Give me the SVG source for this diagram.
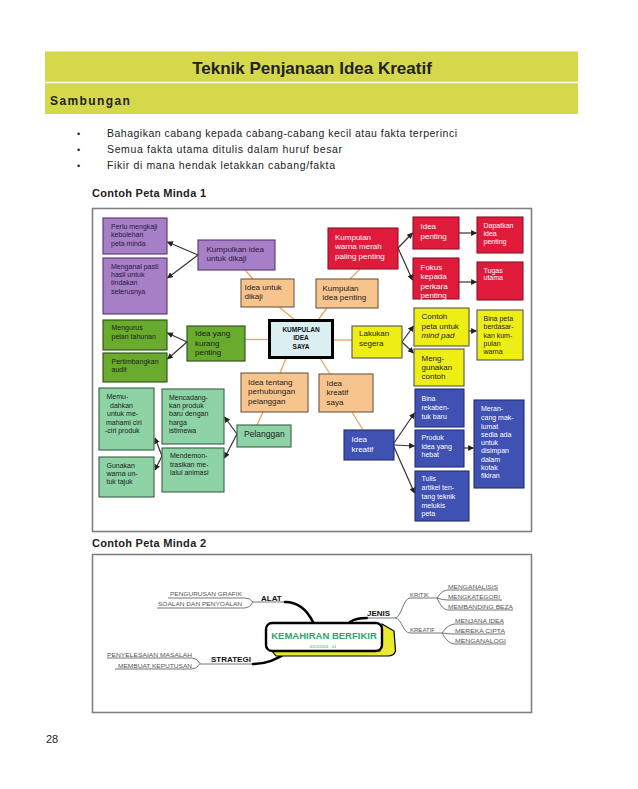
<svg xmlns="http://www.w3.org/2000/svg" width="638" height="789" viewBox="0 0 638 789">
<style>
text{font-family:"Liberation Sans",Arial,sans-serif}
.frame{fill:#fff;stroke:#808080;stroke-width:1.6}
.b{stroke-width:1.1}
.pur{fill:#a67fc6;stroke:#553377}
.red{fill:#e01a3b;stroke:#8a1428}
.pch{fill:#f8c48d;stroke:#6b5a46}
.grn{fill:#69ab2c;stroke:#2d4b1b}
.lgr{fill:#8dd3a5;stroke:#3b5f48}
.blu{fill:#3f51b3;stroke:#252f6e}
.yel{fill:#efee14;stroke:#555}
.t7{font-size:7px;fill:#1c1c1c}
.t8{font-size:8px;fill:#1c1c1c}
.tp{fill:#2b1740}
.w{fill:#fff}
.or{stroke:#f0a05c;stroke-width:1.3;fill:none}
.ar{stroke:#333;stroke-width:1.2;fill:none;marker-end:url(#ah)}
.ul{stroke:#666;stroke-width:0.9;fill:none}
.th{stroke:#000;fill:none;stroke-linecap:round}
.leaf{font-size:5.6px;fill:#555}
.br{font-size:8px;font-weight:bold;fill:#111}
</style>
<defs>
<marker id="ah" viewBox="0 0 10 10" refX="9" refY="5" markerWidth="6" markerHeight="6" markerUnits="userSpaceOnUse" orient="auto"><path d="M0,0 L10,5 L0,10 z" fill="#222"/></marker>
</defs>
<rect width="638" height="789" fill="#fff"/>

<g id="header">
<rect x="45" y="51.5" width="533" height="62.5" fill="#d6d84b"/>
<line x1="45" y1="82.5" x2="578" y2="82.5" stroke="#fff" stroke-width="1.3"/>
<text x="312" y="74" text-anchor="middle" font-size="17" font-weight="bold" fill="#222">Teknik Penjanaan Idea Kreatif</text>
<text x="50" y="105" font-size="12" font-weight="bold" fill="#222" letter-spacing="1.4">Sambungan</text>
</g>

<g id="bullets" font-size="10.5" fill="#222">
<text x="77" y="136.5" font-size="9">•</text>
<text x="107" y="137" textLength="350" lengthAdjust="spacing">Bahagikan cabang kepada cabang-cabang kecil atau fakta terperinci</text>
<text x="77" y="152.5" font-size="9">•</text>
<text x="107" y="153" textLength="235" lengthAdjust="spacing">Semua fakta utama ditulis dalam huruf besar</text>
<text x="77" y="168.5" font-size="9">•</text>
<text x="107" y="169" textLength="228" lengthAdjust="spacing">Fikir di mana hendak letakkan cabang/fakta</text>
</g>

<text x="92" y="197" font-size="11" font-weight="bold" fill="#222" textLength="114" lengthAdjust="spacing">Contoh Peta Minda 1</text>
<rect class="frame" x="92.5" y="208.5" width="439" height="323"/>

<g id="connectors1">
<line class="or" x1="245" y1="270" x2="253" y2="279"/>
<line class="or" x1="279" y1="307" x2="295" y2="320"/>
<line class="or" x1="350" y1="279" x2="360" y2="269"/>
<line class="or" x1="318" y1="320" x2="327" y2="308"/>
<line class="or" x1="269" y1="339.5" x2="245" y2="339.5"/>
<line class="or" x1="333" y1="340" x2="352" y2="340"/>
<line class="or" x1="286" y1="358" x2="280" y2="373"/>
<line class="or" x1="320" y1="358" x2="330" y2="374"/>
<line class="or" x1="263" y1="412" x2="257" y2="425"/>
<line class="or" x1="352" y1="412" x2="363" y2="430"/>
<line class="ar" x1="198" y1="255" x2="167.5" y2="242"/>
<line class="ar" x1="198" y1="255" x2="167.5" y2="278"/>
<line class="ar" x1="187" y1="342" x2="167.5" y2="333"/>
<line class="ar" x1="187" y1="342" x2="167.5" y2="359"/>
<line class="ar" x1="237" y1="434" x2="224.5" y2="417"/>
<line class="ar" x1="237" y1="434" x2="224.5" y2="458"/>
<line class="ar" x1="162" y1="456" x2="155" y2="438"/>
<line class="ar" x1="162" y1="456" x2="155" y2="470"/>
<line class="ar" x1="394" y1="443" x2="414.5" y2="413"/>
<line class="ar" x1="394" y1="445" x2="414.5" y2="446"/>
<line class="ar" x1="394" y1="447" x2="414.5" y2="493"/>
<line class="ar" x1="464" y1="448" x2="473.5" y2="448"/>
<line class="ar" x1="398" y1="248" x2="412.5" y2="233"/>
<line class="ar" x1="398" y1="248" x2="412.5" y2="280"/>
<line class="ar" x1="459" y1="233" x2="476.5" y2="233"/>
<line class="ar" x1="459" y1="282" x2="476.5" y2="282"/>
<line class="ar" x1="402" y1="342" x2="413.5" y2="326"/>
<line class="ar" x1="402" y1="342" x2="413.5" y2="353"/>
<line class="ar" x1="469" y1="331" x2="476.5" y2="331"/>
</g>

<g id="n-perlu"><rect class="b pur" x="103" y="218" width="64" height="36"/><text class="t7 tp"><tspan x="111" y="228.5">Perlu mengkaji</tspan><tspan x="111" y="237">kebolehan</tspan><tspan x="111" y="245.5">peta minda</tspan></text></g>
<g id="n-menganal"><rect class="b pur" x="103" y="258" width="64" height="56"/><text class="t7 tp"><tspan x="111" y="268.5">Menganal pasti</tspan><tspan x="111" y="276.5">hasil untuk</tspan><tspan x="111" y="285">tindakan</tspan><tspan x="111" y="293.5">seterusnya</tspan></text></g>
<g id="n-kumpulkan"><rect class="b pur" x="198" y="240" width="77" height="30"/><text class="t8 tp"><tspan x="206.5" y="252.3">Kumpulkan idea</tspan><tspan x="206.5" y="261.3">untuk dikaji</tspan></text></g>
<g id="n-ideauntuk"><rect class="b pch" x="241" y="279" width="53" height="28"/><text class="t8"><tspan x="244.5" y="289.5">Idea untuk</tspan><tspan x="244.5" y="298.5">dikaji</tspan></text></g>
<g id="n-kumpulanidea"><rect class="b pch" x="316" y="279" width="62" height="29"/><text class="t8"><tspan x="322.5" y="290.5">Kumpulan</tspan><tspan x="322.5" y="299.5">idea penting</tspan></text></g>
<g id="n-warnamerah"><rect class="b red" x="328" y="228" width="70" height="41"/><text class="t8 w"><tspan x="335" y="239.5">Kumpulan</tspan><tspan x="335" y="249">warna merah</tspan><tspan x="335" y="258.5">paling penting</tspan></text></g>
<g id="n-central"><rect x="269.5" y="320.5" width="63" height="37" fill="#dbeff2" stroke="#000" stroke-width="3"/><text font-size="6.5" font-weight="bold" fill="#111" text-anchor="middle"><tspan x="301" y="331.5">KUMPULAN</tspan><tspan x="301" y="340">IDEA</tspan><tspan x="301" y="348.5">SAYA</tspan></text></g>
<g id="n-kurang"><rect class="b grn" x="187" y="326" width="58" height="35"/><text class="t8"><tspan x="195" y="336">Idea yang</tspan><tspan x="195" y="345.5">kurang</tspan><tspan x="195" y="354.5">penting</tspan></text></g>
<g id="n-lakukan"><rect class="b yel" x="352" y="326" width="50" height="32"/><text class="t8"><tspan x="359" y="336">Lakukan</tspan><tspan x="359" y="345.5">segera</tspan></text></g>
<g id="n-mengurus"><rect class="b grn" x="103" y="320" width="64" height="30"/><text class="t7"><tspan x="111.5" y="330">Mengurus</tspan><tspan x="111.5" y="338.5">pelan tahunan</tspan></text></g>
<g id="n-audit"><rect class="b grn" x="103" y="353" width="64" height="29"/><text class="t7"><tspan x="111.5" y="363.5">Pertimbangkan</tspan><tspan x="111.5" y="371.5">audit</tspan></text></g>
<g id="n-perhubungan"><rect class="b pch" x="241" y="373" width="67" height="39"/><text class="t8"><tspan x="248" y="384.5">Idea tentang</tspan><tspan x="248" y="394">perhubungan</tspan><tspan x="248" y="403.5">pelanggan</tspan></text></g>
<g id="n-kreatifsaya"><rect class="b pch" x="319" y="374" width="54" height="38"/><text class="t8"><tspan x="326.5" y="385.5">Idea</tspan><tspan x="326.5" y="395">kreatif</tspan><tspan x="326.5" y="404.5">saya</tspan></text></g>
<g id="n-pelanggan"><rect class="b lgr" x="237" y="425" width="54" height="22"/><text x="244" y="437" font-size="8.5" fill="#1c1c1c">Pelanggan</text></g>
<g id="n-mencadang"><rect class="b lgr" x="162" y="389" width="62" height="55"/><text class="t7"><tspan x="169" y="399.8">Mencadang-</tspan><tspan x="169" y="407.8">kan produk</tspan><tspan x="169" y="416.2">baru dengan</tspan><tspan x="169" y="424.8">harga</tspan><tspan x="169" y="433.2">istimewa</tspan></text></g>
<g id="n-mendemon"><rect class="b lgr" x="162" y="448" width="62" height="44"/><text class="t7"><tspan x="170" y="458.2">Mendemon-</tspan><tspan x="170" y="466.8">trasikan me-</tspan><tspan x="170" y="475.2">lalui animasi</tspan></text></g>
<g id="n-memudahkan"><rect class="b lgr" x="99" y="388" width="55" height="62"/><text class="t7"><tspan x="106.5" y="399.2">Memu-</tspan><tspan x="110" y="407.8">dahkan</tspan><tspan x="107" y="416.2">untuk me-</tspan><tspan x="106" y="424.8">mahami ciri</tspan><tspan x="105" y="433.2">-ciri produk</tspan></text></g>
<g id="n-gunakan"><rect class="b lgr" x="99" y="457" width="55" height="40"/><text class="t7"><tspan x="106.5" y="467.5">Gunakan</tspan><tspan x="106.5" y="475.8">warna un-</tspan><tspan x="106.5" y="484.2">tuk tajuk</tspan></text></g>
<g id="n-ideakreatif"><rect class="b blu" x="344" y="430" width="50" height="30"/><text class="t8 w"><tspan x="351.5" y="442">Idea</tspan><tspan x="351.5" y="451.5">kreatif</tspan></text></g>
<g id="n-ideapenting"><rect class="b red" x="413" y="217" width="46" height="32"/><text class="t8 w"><tspan x="420.5" y="229">Idea</tspan><tspan x="420.5" y="238.5">penting</tspan></text></g>
<g id="n-fokus"><rect class="b red" x="413" y="258" width="46" height="41"/><text class="t8 w"><tspan x="420.5" y="269.5">Fokus</tspan><tspan x="420.5" y="279">kepada</tspan><tspan x="420.5" y="288.5">perkara</tspan><tspan x="420.5" y="298">penting</tspan></text></g>
<g id="n-dapatkan"><rect class="b red" x="477" y="217" width="46" height="36"/><text class="t7 w"><tspan x="483.5" y="227.5">Dapatkan</tspan><tspan x="483.5" y="235.8">idea</tspan><tspan x="483.5" y="244.2">penting</tspan></text></g>
<g id="n-tugas"><rect class="b red" x="477" y="262" width="46" height="38"/><text class="t7 w"><tspan x="483.5" y="272.5">Tugas</tspan><tspan x="483.5" y="280.2">utama</tspan></text></g>
<g id="n-contoh"><rect class="b yel" x="414" y="308" width="55" height="38"/><text class="t8"><tspan x="421.5" y="319">Contoh</tspan><tspan x="421.5" y="328.5">peta untuk</tspan><tspan x="421.5" y="338" font-style="italic">mind pad</tspan></text></g>
<g id="n-menggunakan"><rect class="b yel" x="414" y="349" width="50" height="37"/><text class="t8"><tspan x="421.5" y="360.5">Meng-</tspan><tspan x="421.5" y="370">gunakan</tspan><tspan x="421.5" y="379">contoh</tspan></text></g>
<g id="n-binapeta"><rect class="b yel" x="477" y="310" width="46" height="50"/><text class="t7"><tspan x="483.5" y="320.8">Bina peta</tspan><tspan x="483.5" y="329.2">berdasar-</tspan><tspan x="483.5" y="337.5">kan kum-</tspan><tspan x="483.5" y="345.8">pulan</tspan><tspan x="483.5" y="354.2">warna</tspan></text></g>
<g id="n-rekabentuk"><rect class="b blu" x="415" y="389" width="49" height="38"/><text class="t7 w"><tspan x="421.5" y="400.5">Bina</tspan><tspan x="421.5" y="409.5">rekaben-</tspan><tspan x="421.5" y="419">tuk baru</tspan></text></g>
<g id="n-produk"><rect class="b blu" x="415" y="430" width="49" height="37"/><text class="t7 w"><tspan x="421.5" y="440.2">Produk</tspan><tspan x="421.5" y="448.5">idea yang</tspan><tspan x="421.5" y="456.8">hebat</tspan></text></g>
<g id="n-tulis"><rect class="b blu" x="415" y="471" width="54" height="50"/><text class="t7 w"><tspan x="421.5" y="480.8">Tulis</tspan><tspan x="421.5" y="490.2">artikel ten-</tspan><tspan x="421.5" y="498.5">tang teknik</tspan><tspan x="421.5" y="507.5">melukis</tspan><tspan x="421.5" y="515.8">peta</tspan></text></g>
<g id="n-merancang"><rect class="b blu" x="474" y="400" width="50" height="88"/><text class="t7 w"><tspan x="481" y="410.8">Meran-</tspan><tspan x="481" y="419.8">cang mak-</tspan><tspan x="481" y="428.5">lumat</tspan><tspan x="481" y="436.5">sedia ada</tspan><tspan x="481" y="444.5">untuk</tspan><tspan x="481" y="452.8">disimpan</tspan><tspan x="481" y="461.5">dalam</tspan><tspan x="481" y="469.8">kotak</tspan><tspan x="481" y="478.2">fikiran</tspan></text></g>

<text x="92" y="547" font-size="11" font-weight="bold" fill="#222" textLength="114" lengthAdjust="spacing">Contoh Peta Minda 2</text>
<rect class="frame" x="92.5" y="554.5" width="439" height="158"/>

<g id="connectors2">
<path class="ul" d="M168 598 L245 598 Q250 598 253 602 M157 608 L245 608 Q250 608 253 602 M253 602 L285 602"/>
<path class="th" stroke-width="2.6" d="M285 602 C299 602 307 610 313 622"/>
<path class="ul" d="M107 658 L192 658 Q197 658 200 663.5 M115 669 L192 669 Q197 669 200 663.5 M200 664 L253 664"/>
<path class="th" stroke-width="2.6" d="M253 664 C267 664 278 659 287 652"/>
<path class="th" stroke-width="2.6" d="M350 622 C354 619 359 618 367 618"/>
<path class="ul" d="M367 618 L395 618 C402 617 403 598 410 598 M395 618 C402 619 403 633 410 633"/>
<path class="ul" d="M410 598 L437 598 Q442 590 448 590 L498 590 M437 598 Q442 600 448 600 L502 600 M437 598 Q442 610 448 610 L513 610"/>
<path class="ul" d="M410 633 L442 633 Q448 624 455 624 L504 624 M442 633 Q448 634 455 634 L505 634 M442 633 Q448 644 455 644 L506 644"/>
</g>

<g id="m-central">
<path d="M272 651 L380 651 L382 624 L394 631 L395.5 651 Q394 656 388 656 L276 656 Z" fill="#e9e92e" stroke="#000" stroke-width="1.2"/>
<rect x="266" y="623" width="116" height="28" rx="6" fill="#fff" stroke="#000" stroke-width="2.4"/>
<text x="324" y="638.5" text-anchor="middle" font-size="9.5" font-weight="bold" fill="#2ea66b">KEMAHIRAN BERFIKIR</text>
<text x="323" y="647.5" text-anchor="middle" font-size="4.2" fill="#2ea66b">4/22/2004 - v1</text>
</g>
<g id="m-alat"><text class="br" x="261" y="601">ALAT</text></g>
<g id="m-strategi"><text class="br" x="211" y="662">STRATEGI</text></g>
<g id="m-jenis"><text class="br" x="367" y="616" font-size="8.5">JENIS</text></g>
<g id="m-leaves">
<text class="leaf" x="170" y="596" textLength="72" lengthAdjust="spacingAndGlyphs">PENGURUSAN GRAFIK</text>
<text class="leaf" x="158" y="606" textLength="84" lengthAdjust="spacingAndGlyphs">SOALAN DAN PENYOALAN</text>
<text class="leaf" x="107" y="657" textLength="85" lengthAdjust="spacingAndGlyphs">PENYELESAIAN MASALAH</text>
<text class="leaf" x="118" y="668" textLength="74" lengthAdjust="spacingAndGlyphs">MEMBUAT KEPUTUSAN</text>
<text class="leaf" x="410" y="597" textLength="19" lengthAdjust="spacingAndGlyphs">KRITIK</text>
<text class="leaf" x="410" y="632" textLength="25" lengthAdjust="spacingAndGlyphs">KREATIF</text>
<text class="leaf" x="448" y="589" textLength="50" lengthAdjust="spacingAndGlyphs">MENGANALISIS</text>
<text class="leaf" x="448" y="599" textLength="52" lengthAdjust="spacingAndGlyphs">MENGKATEGORI</text>
<text class="leaf" x="448" y="609" textLength="65" lengthAdjust="spacingAndGlyphs">MEMBANDING BEZA</text>
<text class="leaf" x="455" y="623" textLength="49" lengthAdjust="spacingAndGlyphs">MENJANA IDEA</text>
<text class="leaf" x="455" y="633" textLength="50" lengthAdjust="spacingAndGlyphs">MEREKA CIPTA</text>
<text class="leaf" x="455" y="643" textLength="51" lengthAdjust="spacingAndGlyphs">MENGANALOGI</text>
</g>

<text x="46" y="743" font-size="11" fill="#222">28</text>
</svg>
